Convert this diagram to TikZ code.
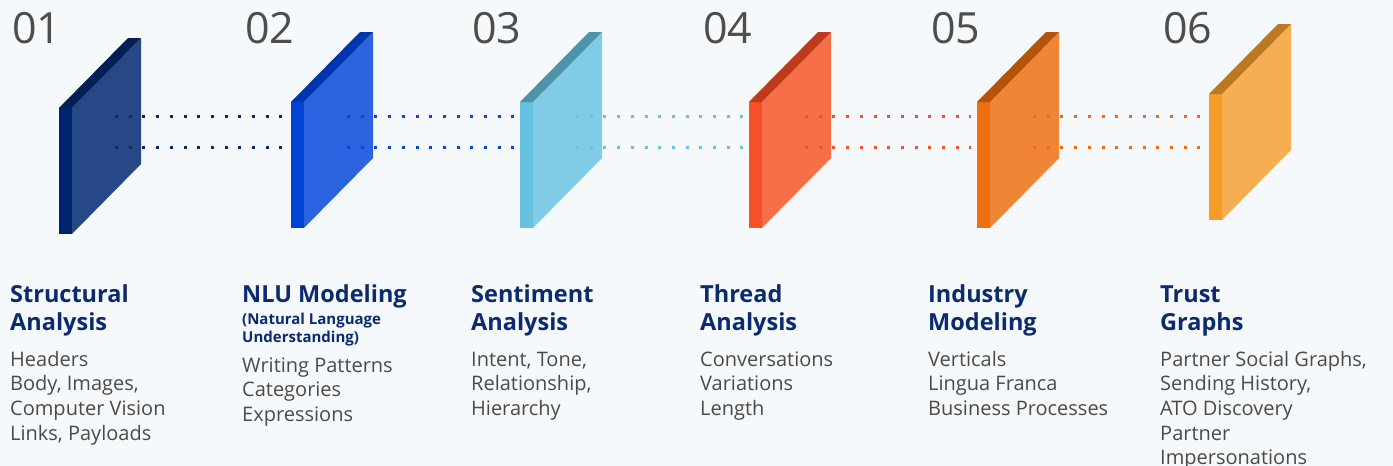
\documentclass[tikz,border=0pt]{standalone}
\usepackage{fontspec}
\setmainfont{Open Sans}
\usepackage{tikz}

\definecolor{bg}{HTML}{F6F9FB}
\definecolor{numgray}{HTML}{4D4D4D}
\definecolor{bodygray}{HTML}{4A4A4A}
\definecolor{navytext}{HTML}{0B2A6F}
% strip / face / top of each slab
\definecolor{s1}{HTML}{00246B}\definecolor{f1}{HTML}{264887}\definecolor{t1}{HTML}{041F56}
\definecolor{s2}{HTML}{0044D5}\definecolor{f2}{HTML}{2C63E0}\definecolor{t2}{HTML}{0035AE}
\definecolor{s3}{HTML}{65C2DF}\definecolor{f3}{HTML}{80CCE7}\definecolor{t3}{HTML}{4F93AA}
\definecolor{s4}{HTML}{F55027}\definecolor{f4}{HTML}{F76F49}\definecolor{t4}{HTML}{BD3A1B}
\definecolor{s5}{HTML}{EE6E11}\definecolor{f5}{HTML}{EF8535}\definecolor{t5}{HTML}{B4540B}
\definecolor{s6}{HTML}{F59C2A}\definecolor{f6}{HTML}{F5AE51}\definecolor{t6}{HTML}{BB7A22}
% dotted links
\definecolor{d1}{HTML}{0B2A6A}
\definecolor{d2}{HTML}{0D44D6}
\definecolor{d3}{HTML}{66C3E0}
\definecolor{d4}{HTML}{F55027}
\definecolor{d5}{HTML}{F06A14}

% x, top of strip, strip colour, face colour, top colour
\newcommand{\slab}[5]{%
	\fill[#3] (#1,#2) rectangle ++(13,126);
	\fill[#4] (#1+13,#2) -- ++(69,-70) -- ++(0,126) -- ++(-69,70) -- cycle;
	\fill[#5] (#1,#2) -- ++(69,-70) -- ++(13,0) -- ++(-69,70) -- cycle;
}
% lines hung from the baseline of the first one
\newcommand{\stack}[1]{\begin{tabular}[t]{@{}l@{}}#1\end{tabular}}

\tikzset{
	num/.style={anchor=base west, inner sep=0, text=numgray, font=\fontsize{43}{43}\selectfont},
	ttl/.style={anchor=base west, inner sep=0, text=navytext, font=\bfseries\fontsize{23.5}{28}\selectfont},
	subttl/.style={anchor=base west, inner sep=0, text=navytext, font=\bfseries\fontsize{15}{18}\selectfont},
	body/.style={anchor=base west, inner sep=0, text=bodygray, font=\fontsize{20}{24.7}\selectfont},
	dots/.style={line width=3pt, dash pattern=on 3pt off 10.7pt}
}

\begin{document}
\begin{tikzpicture}[x=1pt, y=-1pt]
	\fill[bg] (0,0) rectangle (1393,466);
	\useasboundingbox (0,0) rectangle (1393,466);

	\foreach \n/\x in {1/59,2/291,3/520,4/749,5/977,6/1209}{
		\coordinate (out\n a) at (\x+56,116);
		\coordinate (out\n b) at (\x+56,147);
		\coordinate (in\n a) at (\x-6,116);
		\coordinate (in\n b) at (\x-6,147);
	}

	\slab{59}{108}{s1}{f1}{t1}
	\draw[dots, d1] (out1a) -- (in2a) (out1b) -- (in2b);
	\slab{291}{102}{s2}{f2}{t2}
	\draw[dots, d2] (out2a) -- (in3a) (out2b) -- (in3b);
	\slab{520}{102}{s3}{f3}{t3}
	\draw[dots, d3] (out3a) -- (in4a) (out3b) -- (in4b);
	\slab{749}{102}{s4}{f4}{t4}
	\draw[dots, d4] (out4a) -- (in5a) (out4b) -- (in5b);
	\slab{977}{102}{s5}{f5}{t5}
	\draw[dots, d5] (out5a) -- (in6a) (out5b) -- (in6b);
	\slab{1209}{94}{s6}{f6}{t6}

	\node[num] (n1) at (12,43) {01};
	\node[num] (n2) at (245,43) {02};
	\node[num] (n3) at (472,43) {03};
	\node[num] (n4) at (703,43) {04};
	\node[num] (n5) at (931,43) {05};
	\node[num] (n6) at (1163,43) {06};

	\node[ttl] (struct) at (10,302) {\stack{Structural\\Analysis}};
	\node[body] (structtxt) at (10,366) {\stack{Headers\\Body, Images,\\Computer Vision\\Links, Payloads}};

	\node[ttl] (nlu) at (242,302) {NLU Modeling};
	\node[subttl] (nlusub) at (242,324) {\stack{(Natural Language\\Understanding)}};
	\node[body] (nlutxt) at (242,372) {\stack{Writing Patterns\\Categories\\Expressions}};

	\node[ttl] (senti) at (471,302) {\stack{Sentiment\\Analysis}};
	\node[body] (sentitxt) at (471,366) {\stack{Intent, Tone,\\Relationship,\\Hierarchy}};

	\node[ttl] (thread) at (700,302) {\stack{Thread\\Analysis}};
	\node[body] (threadtxt) at (700,366) {\stack{Conversations\\Variations\\Length}};

	\node[ttl] (indus) at (928,302) {\stack{Industry\\Modeling}};
	\node[body] (industxt) at (928,366) {\stack{Verticals\\Lingua Franca\\Business Processes}};

	\node[ttl] (trust) at (1160,302) {\stack{Trust\\Graphs}};
	\node[body] (trusttxt) at (1160,366) {\stack{Partner Social Graphs,\\Sending History,\\ATO Discovery\\Partner\\Impersonations}};
\end{tikzpicture}
\end{document}
